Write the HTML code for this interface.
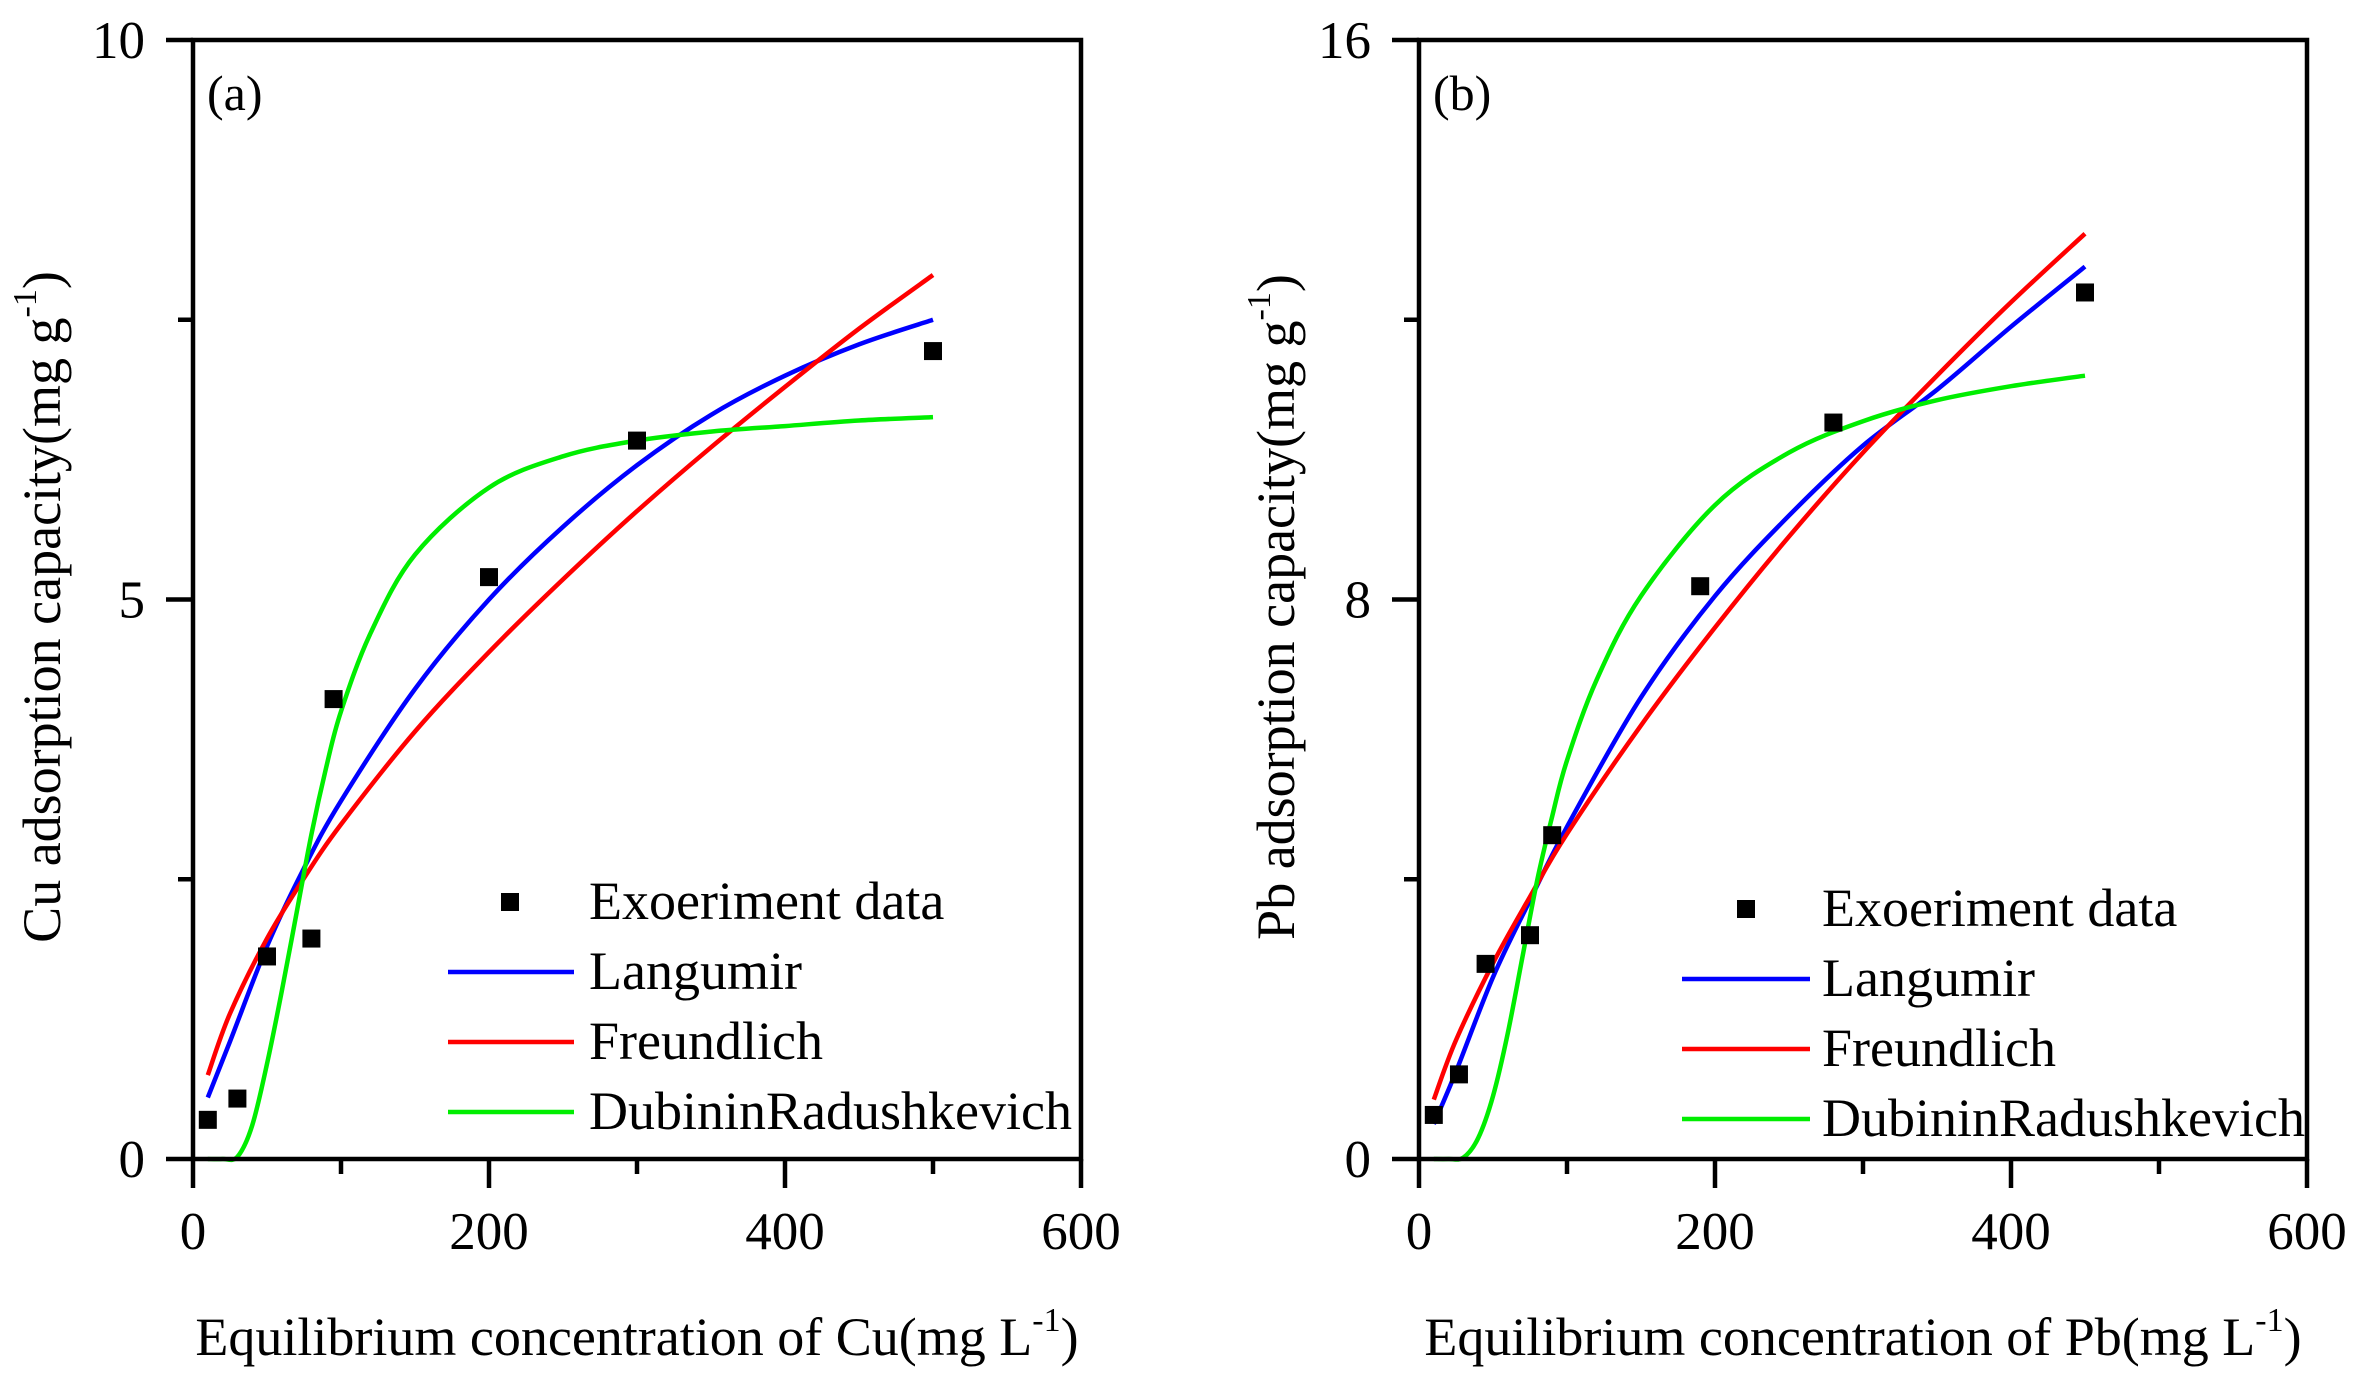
<!DOCTYPE html>
<html><head><meta charset="utf-8"><style>
html,body{margin:0;padding:0;background:#fff;}
svg{display:block;}
text{font-family:"Liberation Serif","DejaVu Serif",serif;}
</style></head><body>
<svg id="fig" width="2368" height="1382" viewBox="0 0 2368 1382" xmlns="http://www.w3.org/2000/svg" font-family="Liberation Serif, serif"></svg>
<script>
const xTicks=[0,200,400,600];
const aCurveX=[10,25,50,75,100,150,200,250,300,350,400,450,500];
const aLang=[0.55,1.05,1.9,2.6,3.2,4.2,5.0,5.65,6.2,6.65,7.0,7.28,7.5];
const aFreu=[0.75,1.3,1.97,2.51,2.99,3.82,4.53,5.18,5.79,6.36,6.9,7.42,7.9];
const aDRX=[10,20,30,40,50,60,70,80,90,100,120,150,200,250,300,350,400,450,500];
const aDR=[0,0,0.02,0.3,0.85,1.5,2.2,2.9,3.5,4.0,4.7,5.4,6.0,6.28,6.42,6.5,6.55,6.6,6.63];
const aPtX=[10,30,50,80,95,200,300,500];
const aPtY=[0.35,0.54,1.81,1.97,4.11,5.2,6.42,7.22];
const aYTicks=[0,5,10];
const bCurveX=[10,25,50,75,100,150,200,250,300,350,400,450];
const bLang=[0.5,1.25,2.6,3.7,4.75,6.6,8.05,9.2,10.2,11.0,11.9,12.76];
const bFreu=[0.85,1.7,2.8,3.75,4.65,6.2,7.6,8.9,10.1,11.2,12.25,13.23];
const bDRX=[10,20,30,40,50,60,70,80,90,100,120,150,200,250,300,350,400,450];
const bDR=[0,0,0.02,0.3,0.9,1.8,2.9,4.0,4.9,5.7,6.85,8.05,9.35,10.1,10.55,10.85,11.05,11.2];
const bPtX=[10,27,45,75,90,190,280,450];
const bPtY=[0.63,1.21,2.79,3.2,4.63,8.19,10.53,12.39];
const bYTicks=[0,8,16];
const legendLabels=["Exoeriment data","Langumir","Freundlich","DubininRadushkevich"];

const NS="http://www.w3.org/2000/svg";
const svg=document.getElementById('fig');
function mk(tag,attrs,parent,text){const e=document.createElementNS(NS,tag);for(const k in attrs)e.setAttribute(k,attrs[k]);if(text!==undefined)e.textContent=text;(parent||svg).appendChild(e);return e;}
function smooth(pts){
  let d='M'+pts[0][0].toFixed(1)+','+pts[0][1].toFixed(1);
  for(let i=0;i<pts.length-1;i++){
    const p0=pts[Math.max(0,i-1)],p1=pts[i],p2=pts[i+1],p3=pts[Math.min(pts.length-1,i+2)];
    const c1=[p1[0]+(p2[0]-p0[0])/6,p1[1]+(p2[1]-p0[1])/6];
    const c2=[p2[0]-(p3[0]-p1[0])/6,p2[1]-(p3[1]-p1[1])/6];
    d+=' C'+c1[0].toFixed(1)+','+c1[1].toFixed(1)+' '+c2[0].toFixed(1)+','+c2[1].toFixed(1)+' '+p2[0].toFixed(1)+','+p2[1].toFixed(1);
  }
  return d;
}
const FF='Liberation Serif, serif';
function panel(o){
  const g=mk('g',{});
  
  
  const X=v=>o.x0+(v/600)*(o.x1-o.x0);
  const Y=v=>o.yb-(v/o.ymax)*(o.yb-o.yt);
  const curves=[[o.cx,o.lang,'#0000ff','langmuir-curve'],[o.cx,o.freu,'#ff0000','freundlich-curve'],[o.drx,o.dr,'#00ee00','dubinin-radushkevich-curve']];
  curves.forEach(c=>{
    const pts=c[0].map((x,i)=>[X(x),Y(c[1][i])]);
    const p=mk('path',{d:smooth(pts),fill:'none',stroke:c[2],'stroke-width':4.5,'stroke-linejoin':'round'},g);
    
    
  });
  o.px.forEach((x,i)=>{
    const r=mk('rect',{x:X(x)-9,y:Y(o.py[i])-9,width:18,height:18,fill:'#000'},g);
    
    
  });
  const fr=mk('rect',{x:o.x0,y:o.yt,width:o.x1-o.x0,height:o.yb-o.yt,fill:'none',stroke:'#000','stroke-width':4.5},g);
  
  
  for(let v=0;v<=600;v+=100){
    const len=(v%200===0)?29:15;
    mk('line',{x1:X(v),x2:X(v),y1:o.yb,y2:o.yb+len,stroke:'#000','stroke-width':4.5},g);
  }
  xTicks.forEach(v=>{
    const t=mk('text',{x:X(v),y:o.yb+90,'font-size':53,'text-anchor':'middle','font-family':FF},g,String(v));
    
    
  });
  const step=o.ytk[1]/2;
  for(let v=0;v<=o.ymax+1e-9;v+=step){
    const len=(Math.abs(v/o.ytk[1]-Math.round(v/o.ytk[1]))<1e-6)?27:15;
    mk('line',{x1:o.x0-len,x2:o.x0,y1:Y(v),y2:Y(v),stroke:'#000','stroke-width':4.5},g);
  }
  o.ytk.forEach(v=>{
    const t=mk('text',{x:o.x0-48,y:Y(v)+18,'font-size':53,'text-anchor':'end','font-family':FF},g,String(v));
    
    
  });
  const lab=mk('text',{x:o.x0+14,y:o.yt+70,'font-size':50,'font-family':FF},g,o.label);
  
  
  const xt=mk('text',{x:(o.x0+o.x1)/2,y:1355,'font-size':54,'text-anchor':'middle','font-family':FF},g);
  
  
  mk('tspan',{},xt,'Equilibrium concentration of '+o.el+'(mg L');
  mk('tspan',{dy:-24,'font-size':34},xt,'-1');
  mk('tspan',{dy:24},xt,')');
  const yt=mk('text',{x:0,y:0,'font-size':54,'text-anchor':'middle','font-family':FF,transform:'translate('+o.ytx+',607) rotate(-90)'},g);
  
  
  mk('tspan',{},yt,o.el+' adsorption capacity(mg g');
  mk('tspan',{dy:-24,'font-size':34},yt,'-1');
  mk('tspan',{dy:24},yt,')');
  const lg=mk('g',{},g);
  
  
  const cols=['#000','#0000ff','#ff0000','#00ee00'];
  legendLabels.forEach((s,i)=>{
    const y=o.lgy+i*70;
    const e=mk('g',{},lg);
    
    
    if(i===0) mk('rect',{x:o.mkx-9,y:y-9,width:18,height:18,fill:'#000'},e);
    else mk('line',{x1:o.l1,x2:o.l2,y1:y,y2:y,stroke:cols[i],'stroke-width':4.5},e);
    mk('text',{x:o.tx,y:y+17,'font-size':54,'font-family':FF},e,s);
  });
}
panel({id:'cu',x0:193,x1:1081,yt:40,yb:1159,ymax:10,ytk:aYTicks,cx:aCurveX,lang:aLang,freu:aFreu,drx:aDRX,dr:aDR,px:aPtX,py:aPtY,label:'(a)',el:'Cu',ytx:60,lgy:902,mkx:510,l1:448,l2:574,tx:589});
panel({id:'pb',x0:1419,x1:2307,yt:40,yb:1159,ymax:16,ytk:bYTicks,cx:bCurveX,lang:bLang,freu:bFreu,drx:bDRX,dr:bDR,px:bPtX,py:bPtY,label:'(b)',el:'Pb',ytx:1294,lgy:909,mkx:1746,l1:1682,l2:1810,tx:1822});
</script>
</body></html>
